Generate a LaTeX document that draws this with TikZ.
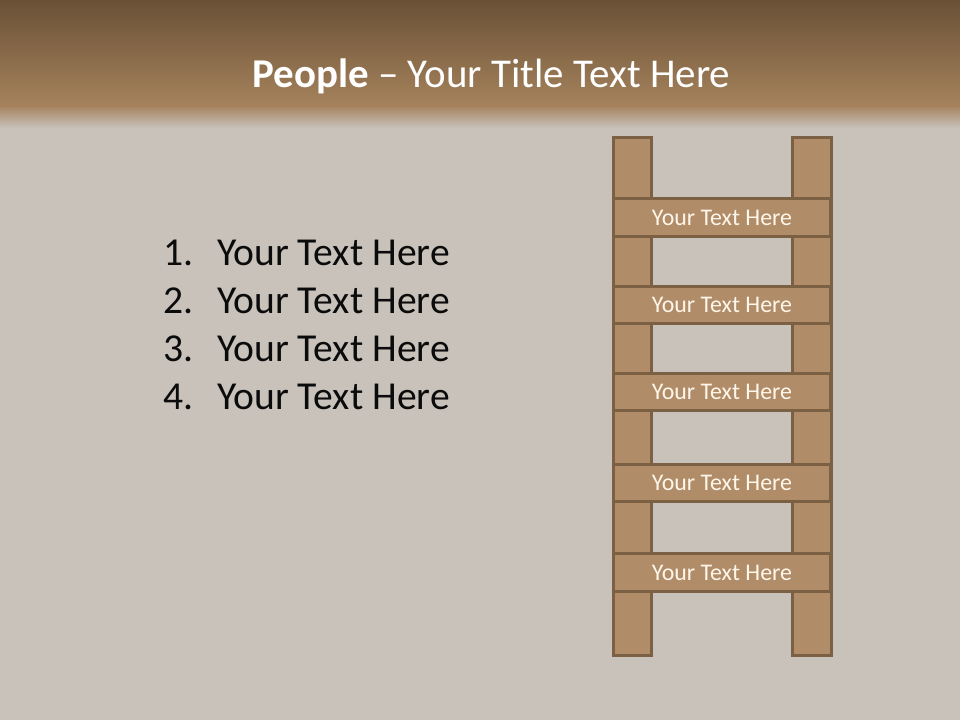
\documentclass[tikz,border=0pt]{standalone}
\usepackage{fontspec}
\setmainfont{Carlito}
\usepackage{xcolor}
\usepackage{tikz}
\usetikzlibrary{positioning}
\definecolor{bartop}{HTML}{6A5136}
\definecolor{barbottom}{HTML}{A5825C}
\definecolor{paper}{HTML}{C8C2BB}
\definecolor{wood}{HTML}{B08C68}
\definecolor{woodedge}{HTML}{7B6044}
\definecolor{cream}{HTML}{FFF6EA}
\definecolor{ink}{HTML}{0B0B0B}

\tikzset{
  rail/.style={draw=woodedge, fill=wood, line width=2.2pt, inner sep=0pt,
               minimum width=29pt, minimum height=388.5pt},
  rung/.style={draw=woodedge, fill=wood, line width=2.2pt, inner sep=0pt,
               minimum width=163.2pt, minimum height=28.2pt,
               text=cream, font=\fontsize{17.9}{20}\selectfont},
  listitem/.style={anchor=base west, inner sep=0pt, text=ink,
                   font=\fontsize{29.7}{34}\selectfont}
}

\begin{document}
\begin{tikzpicture}[x=0.75pt, y=-0.75pt]
  \useasboundingbox (0,0) rectangle (960,720);
  % backdrop and title band
  \fill[paper] (0,0) rectangle (960,720);
  \shade[top color=bartop, bottom color=barbottom] (0,0) rectangle (960,106);
  \shade[top color=barbottom, bottom color=paper] (0,105.5) rectangle (960,128);
  \node[anchor=base, inner sep=0pt, text=white, font=\fontsize{30.7}{36}\selectfont]
    (title) at (491.5,87.3) {\textbf{People} -- Your Title Text Here};

  % numbered list
  \foreach \y [count=\i] in {266,313.7,361.4,409.1}
    \node[listitem] (item\i) at (163,\y) {\makebox[40.5pt][l]{\i.}Your Text Here};

  % ladder
  \node[rail] (leftrail) at (632.5,396.2) {};
  \node[rail] (rightrail) at (812,396.2) {};
  \foreach \y [count=\i] in {217.5,305,392,483,572.5}
    \node[rung] (rung\i) at (722,\y) {Your Text Here};
\end{tikzpicture}
\end{document}
